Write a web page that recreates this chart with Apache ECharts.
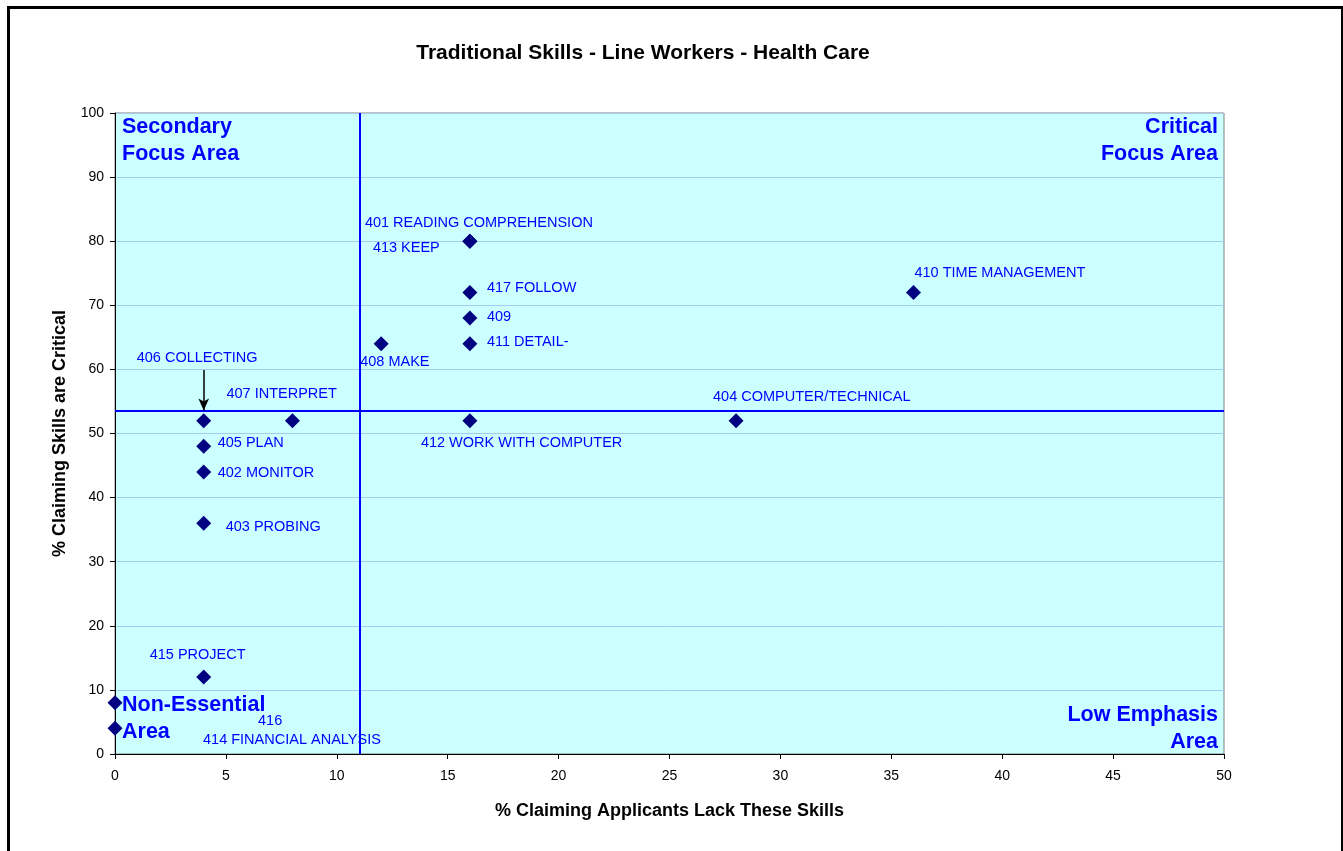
<!DOCTYPE html>
<html>
<head>
<meta charset="utf-8">
<title>Traditional Skills - Line Workers - Health Care</title>
<script src="https://cdn.jsdelivr.net/npm/echarts@6/dist/echarts.min.js"></script>
<style>
    html, body { margin: 0; padding: 0; background: #fff; }
    #scatterChart { width: 1343px; height: 851px; }
</style>
</head>
<body>
<div id="scatterChart"></div>
<script>
// 数据
var skillNames = [
    '401 READING COMPREHENSION', '413 KEEP', '417 FOLLOW', '409', '411 DETAIL-',
    '408 MAKE', '406 COLLECTING', '407 INTERPRET', '405 PLAN', '402 MONITOR',
    '403 PROBING', '412 WORK WITH COMPUTER', '404 COMPUTER/TECHNICAL',
    '410 TIME MANAGEMENT', '415 PROJECT', '416', '414 FINANCIAL ANALYSIS'
];
var lackValues = [16, 16, 16, 16, 16, 12, 4, 8, 4, 4, 4, 16, 28, 36, 4, 0, 0];
var criticalValues = [80, 80, 72, 68, 64, 64, 52, 52, 48, 44, 36, 52, 52, 72, 12, 8, 4];
var xTicks = [0, 5, 10, 15, 20, 25, 30, 35, 40, 45, 50];
var yTicks = [0, 10, 20, 30, 40, 50, 60, 70, 80, 90, 100];
var quadrantX = 11.05;
var quadrantY = 53.5;

// 标签偏移 (px, 相对于点)
var labelOffsets = [
    [-105, -18], [-97, 7], [17, -4], [17, -1], [17, -2],
    [-21, 18], [-67, -63], [-66, -27], [14, -3], [14, 1],
    [22, 4], [-49, 22], [-23, -24],
    [1, -19], [-54, -22], [143, 18], [88, 12]
];

var scatterChart = function () {
    var myChart = echarts.init(document.getElementById('scatterChart'));
    var seriesData = skillNames.map(function (name, i) {
        return { name: name, value: [lackValues[i], criticalValues[i]] };
    });
    var font = 'Arial, "Liberation Sans", sans-serif';
    var areaText = function (text, x, y, align) {
        return {
            type: 'text', x: x, y: y, z: 10, silent: true,
            style: {
                text: text, fill: '#0000FF', align: align, verticalAlign: 'top',
                font: 'bold 21.5px ' + font
            }
        };
    };
    var option = {
        animation: false,
        backgroundColor: '#ffffff',
        title: {
            text: 'Traditional Skills - Line Workers - Health Care',
            left: 638,
            top: 38,
            textAlign: 'center',
            textStyle: { fontFamily: font, fontSize: 21, fontWeight: 'bold', color: '#000' }
        },
        grid: {
            left: 115, right: 119, top: 113, bottom: 97,
            show: true,
            backgroundColor: '#CCFFFF',
            borderColor: '#808080',
            borderWidth: 1
        },
        xAxis: {
            type: 'value',
            min: 0, max: 50, interval: 5,
            name: '% Claiming Applicants Lack These Skills',
            nameLocation: 'middle',
            nameGap: 48,
            nameTextStyle: { fontFamily: font, fontSize: 18, fontWeight: 'bold', color: '#000' },
            axisLine: { lineStyle: { color: '#000', width: 1 } },
            axisTick: { show: true, length: 5, lineStyle: { color: '#000' } },
            axisLabel: { fontFamily: font, fontSize: 14, color: '#000', margin: 15,
                formatter: function (v) { return xTicks.indexOf(v) >= 0 ? v : ''; } },
            splitLine: { show: false }
        },
        yAxis: {
            type: 'value',
            min: 0, max: 100, interval: 10,
            name: '% Claiming Skills are Critical',
            nameLocation: 'middle',
            nameGap: 46,
            nameTextStyle: { fontFamily: font, fontSize: 18, fontWeight: 'bold', color: '#000' },
            axisLine: { show: true, lineStyle: { color: '#000', width: 1 } },
            axisTick: { show: true, length: 5, lineStyle: { color: '#000' } },
            axisLabel: { fontFamily: font, fontSize: 14, color: '#000', margin: 11,
                formatter: function (v) { return yTicks.indexOf(v) >= 0 ? v : ''; } },
            splitLine: { show: true, lineStyle: { color: '#A6CAF0', width: 1 } }
        },
        series: [{
            type: 'scatter',
            symbol: 'diamond',
            symbolSize: 15,
            itemStyle: { color: '#000080', opacity: 1 },
            label: {
                show: true,
                position: 'inside',
                align: 'left',
                verticalAlign: 'middle',
                formatter: '{b}',
                fontFamily: font,
                fontSize: 14.5,
                color: '#0000FF'
            },
            labelLayout: function (params) {
                var off = labelOffsets[params.dataIndex];
                return { dx: off[0], dy: off[1], hideOverlap: false };
            },
            data: seriesData,
            markLine: {
                silent: true,
                symbol: ['none', 'none'],
                animation: false,
                label: { show: false },
                lineStyle: { color: '#0000FF', width: 2, type: 'solid' },
                data: [
                    { xAxis: quadrantX },
                    { yAxis: quadrantY },
                    [
                        { coord: [4, 59.9], symbol: 'none',
                          lineStyle: { color: '#000', width: 1.5 } },
                        { coord: [4, 53.6], symbol: 'arrow', symbolSize: [8, 12] }
                    ]
                ]
            },
            z: 5
        }],
        graphic: [
            { type: 'rect', left: 6, top: 5, shape: { width: 1334, height: 860 },
              style: { fill: 'none', stroke: '#000', lineWidth: 3 }, silent: true },
            areaText('Secondary', 122, 116, 'left'),
            areaText('Focus Area', 122, 143, 'left'),
            areaText('Critical', 1218, 116, 'right'),
            areaText('Focus Area', 1218, 143, 'right'),
            areaText('Non-Essential', 122, 694, 'left'),
            areaText('Area', 122, 721, 'left'),
            areaText('Low Emphasis', 1218, 704, 'right'),
            areaText('Area', 1218, 731, 'right')
        ]
    };
    myChart.setOption(option);
};
scatterChart();
</script>
</body>
</html>
